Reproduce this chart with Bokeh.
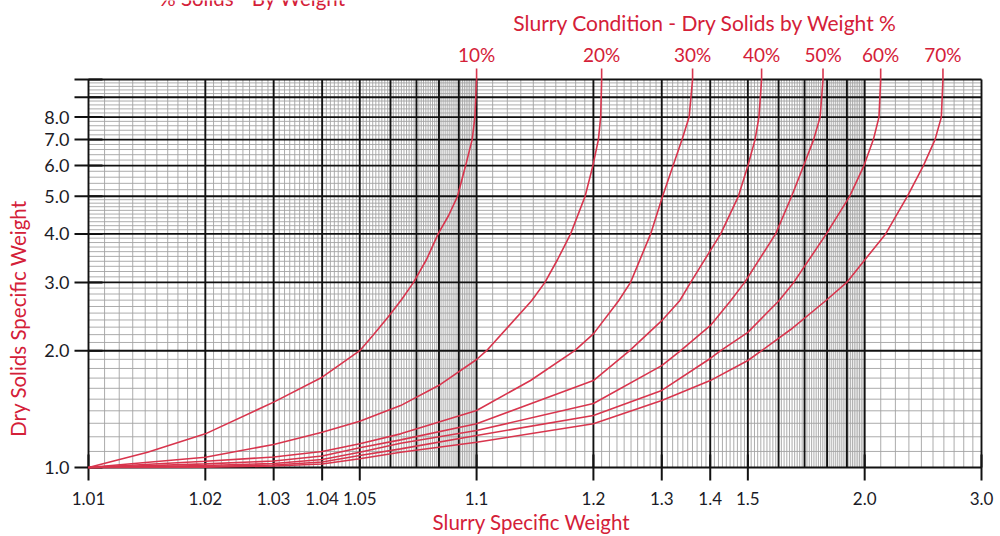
import math
import numpy as np
from bokeh.plotting import figure
from bokeh.models import Range1d
from bokeh.embed import file_html
from bokeh.resources import INLINE
from bokeh.core.properties import value

# ---------------- data: slurry specific weight (x) vs dry solids specific weight (y) ----------------
pct_labels = ["10%", "20%", "30%", "40%", "50%", "60%", "70%"]

sg_10 = [1.010, 1.0142, 1.020, 1.030, 1.040, 1.050, 1.0543, 1.0593, 1.0641, 1.0688, 1.0743, 1.0796, 1.0847, 1.0893, 1.0937, 1.0974, 1.099, 1.100]
dry_10 = [1.00, 1.095, 1.221, 1.474, 1.709, 2.00, 2.202, 2.451, 2.710, 3.00, 3.436, 4.00, 4.462, 5.00, 6.00, 7.00, 8.00, 10.0]

sg_20 = [1.010, 1.020, 1.030, 1.040, 1.050, 1.0637, 1.0807, 1.100, 1.1061, 1.1386, 1.150, 1.1617, 1.1747, 1.1904, 1.1994, 1.206, 1.2088, 1.210]
dry_20 = [1.00, 1.063, 1.146, 1.233, 1.316, 1.444, 1.637, 1.898, 2.00, 2.69, 3.00, 3.436, 4.00, 5.00, 6.00, 7.00, 8.00, 10.0]

sg_30 = [1.010, 1.020, 1.030, 1.040, 1.050, 1.0637, 1.100, 1.1377, 1.179, 1.200, 1.2323, 1.2493, 1.2809, 1.3015, 1.3209, 1.3384, 1.3529, 1.3602]
dry_30 = [1.00, 1.038, 1.064, 1.100, 1.151, 1.221, 1.403, 1.676, 2.00, 2.21, 2.69, 3.00, 4.00, 5.00, 6.00, 7.00, 8.00, 10.0]

sg_40 = [1.010, 1.020, 1.030, 1.040, 1.050, 1.0637, 1.100, 1.200, 1.248, 1.300, 1.3337, 1.3561, 1.4256, 1.4727, 1.5003, 1.5218, 1.534, 1.5425]
dry_40 = [1.00, 1.022, 1.039, 1.071, 1.124, 1.178, 1.296, 1.675, 2.00, 2.39, 2.69, 3.00, 4.00, 5.00, 6.00, 7.00, 8.00, 10.0]

sg_50 = [1.010, 1.020, 1.030, 1.040, 1.050, 1.0637, 1.100, 1.200, 1.300, 1.3356, 1.400, 1.4515, 1.4905, 1.5896, 1.6484, 1.6964, 1.7387, 1.7677, 1.781]
dry_50 = [1.00, 1.012, 1.024, 1.049, 1.095, 1.155, 1.245, 1.462, 1.83, 2.00, 2.32, 2.69, 3.00, 4.00, 5.00, 6.00, 7.00, 8.00, 10.0]

sg_60 = [1.010, 1.020, 1.030, 1.040, 1.050, 1.0637, 1.100, 1.200, 1.300, 1.400, 1.4256, 1.500, 1.6013, 1.6564, 1.7966, 1.9147, 1.9958, 2.0529, 2.0886, 2.0996]
dry_60 = [1.00, 1.006, 1.015, 1.033, 1.074, 1.117, 1.209, 1.361, 1.58, 1.91, 2.00, 2.23, 2.69, 3.00, 4.00, 5.00, 6.00, 7.00, 8.00, 10.0]

sg_70 = [1.010, 1.020, 1.030, 1.040, 1.050, 1.0637, 1.100, 1.200, 1.300, 1.400, 1.500, 1.5425, 1.6446, 1.7935, 1.899, 2.1325, 2.288, 2.417, 2.518, 2.576, 2.591]
dry_70 = [1.00, 1.002, 1.009, 1.021, 1.053, 1.095, 1.162, 1.296, 1.488, 1.675, 1.887, 2.00, 2.268, 2.69, 3.00, 4.00, 5.00, 6.00, 7.00, 8.00, 10.0]

x_tick_values = [1.01, 1.02, 1.03, 1.04, 1.05, 1.1, 1.2, 1.3, 1.4, 1.5, 2.0, 3.0]
x_tick_labels = ["1.01", "1.02", "1.03", "1.04", "1.05", "1.1", "1.2", "1.3", "1.4", "1.5", "2.0", "3.0"]
y_tick_values = [1, 2, 3, 4, 5, 6, 7, 8, 9, 10]
y_tick_labels = ["1.0", "2.0", "3.0", "4.0", "5.0", "6.0", "7.0", "8.0", "", ""]

X_MIN, X_MAX = 1.01, 3.0      # slurry specific weight extent of the chart paper
Y_MIN, Y_MAX = 1.0, 10.0      # dry solids specific weight extent
label_level = 10.67           # where the percentage leaders end

# ---------------- layout / styling ----------------
W, H = 1000, 536
PX_L, PX_R, PX_T, PX_B = 88, 981, 79, 467   # grid box on the canvas
RED_LINE = "#d8354d"
RED_TEXT = "#d42038"
INK = "#1b1b26"
FONT = value("Lato")


def off(v):
    return round(v - 1.0, 6)


# ranges so that the grid box lands at the pixels above while the whole canvas is the frame
ppd_x = (PX_R - PX_L) / math.log10(off(X_MAX) / off(X_MIN))
ppd_y = (PX_B - PX_T) / math.log10(Y_MAX / Y_MIN)
x_range = Range1d(off(X_MIN) * 10 ** (-PX_L / ppd_x), off(X_MAX) * 10 ** ((W - PX_R) / ppd_x))
y_range = Range1d(Y_MIN * 10 ** (-(H - PX_B) / ppd_y), Y_MAX * 10 ** (PX_T / ppd_y))

p = figure(width=W, height=H, x_axis_type="log", y_axis_type="log",
           x_range=x_range, y_range=y_range, x_axis_location=None, y_axis_location=None,
           output_backend="svg", toolbar_location=None, title=None,
           min_border=0, min_border_left=0, min_border_right=0, min_border_top=0, min_border_bottom=0)
p.grid.visible = False
p.outline_line_color = None
p.background_fill_color = "white"
p.border_fill_color = "white"

# ---------------- chart paper grid ----------------
x_major = sorted(set([off(v) for v in np.round(np.arange(1.01, 1.1001, 0.01), 3)] +
                     [off(v) for v in np.round(np.arange(1.1, 2.0001, 0.1), 2)] + [off(3.0)]))
x_minor = sorted(set([off(v) for v in np.round(np.arange(1.010, 1.1001, 0.001), 4)] +
                     [off(v) for v in np.round(np.arange(1.10, 2.0001, 0.01), 3)] +
                     [off(v) for v in np.round(np.arange(2.0, 3.0001, 0.1), 2)]) - set(x_major))
y_major = [float(v) for v in y_tick_values]
y_minor = sorted(set(np.round(np.arange(1.0, 5.0001, 0.1), 2).tolist() +
                     np.round(np.arange(5.0, 10.0001, 0.2), 2).tolist()) - set(y_major))

GRAY = "#a3a3a3"
p.segment(x0=x_minor, y0=[Y_MIN] * len(x_minor), x1=x_minor, y1=[Y_MAX] * len(x_minor),
          line_color=GRAY, line_width=0.9)
p.segment(x0=[off(X_MIN)] * len(y_minor), y0=y_minor, x1=[off(X_MAX)] * len(y_minor), y1=y_minor,
          line_color=GRAY, line_width=0.9)
p.segment(x0=x_major, y0=[Y_MIN] * len(x_major), x1=x_major, y1=[Y_MAX] * len(x_major),
          line_color="#111111", line_width=1.9)
p.segment(x0=[off(X_MIN)] * len(y_major), y0=y_major, x1=[off(X_MAX)] * len(y_major), y1=y_major,
          line_color="#111111", line_width=1.9)

# ---------------- axis ticks and tick labels ----------------
xt = [off(v) for v in x_tick_values]
p.scatter(x=xt, y=[Y_MIN] * len(xt), marker="dash", size=26, angle=math.pi / 2,
          line_color="#111111", line_width=2)
p.scatter(x=[off(X_MIN)] * len(y_major), y=y_major, marker="dash", size=28,
          line_color="#111111", line_width=2)
p.text(x=xt, y=[Y_MIN] * len(xt), text=x_tick_labels, text_align="center", text_baseline="top",
       y_offset=24, text_font=FONT, text_font_size="17px", text_color=INK)
p.text(x=[off(X_MIN)] * len(y_major), y=y_major, text=y_tick_labels, text_align="right",
       text_baseline="middle", x_offset=-19, text_font=FONT, text_font_size="18px", text_color=INK)

# ---------------- curves ----------------
curves = [(sg_10, dry_10), (sg_20, dry_20), (sg_30, dry_30), (sg_40, dry_40),
          (sg_50, dry_50), (sg_60, dry_60), (sg_70, dry_70)]
for sg, dry in curves:
    p.line([off(v) for v in sg], dry, line_color=RED_LINE, line_width=1.6)

tops = [off(c[0][-1]) for c in curves]
p.segment(x0=tops, y0=[c[1][-1] for c in curves], x1=tops, y1=[label_level] * len(tops),
          line_color=RED_LINE, line_width=1.6)
p.text(x=tops, y=[label_level] * len(tops), text=pct_labels, text_align="center",
       text_baseline="alphabetic", y_offset=-14, text_font=FONT, text_font_size="19px",
       text_color=RED_TEXT)

# ---------------- titles ----------------
p.text(x=[off(X_MIN)], y=[Y_MAX], text=["Slurry Condition - Dry Solids by Weight %"],
       x_offset=617, y_offset=-57, text_align="center", text_baseline="alphabetic",
       text_font=FONT, text_font_size="21px", text_color=RED_TEXT)
p.text(x=[off(X_MIN)], y=[Y_MAX], text=["% Solids - By Weight"],
       x_offset=164, y_offset=-82, text_align="center", text_baseline="alphabetic",
       text_font=FONT, text_font_size="20.5px", text_color=RED_TEXT)
p.text(x=[off(X_MIN)], y=[Y_MIN], text=["Slurry Specific Weight"],
       x_offset=443, y_offset=54, text_align="center", text_baseline="alphabetic",
       text_font=FONT, text_font_size="20.5px", text_color=RED_TEXT)
p.text(x=[off(X_MIN)], y=[Y_MIN], text=["Dry Solids Specific Weight"],
       x_offset=-71, y_offset=-149, angle=math.pi / 2, text_align="center",
       text_baseline="alphabetic", text_font=FONT, text_font_size="20.5px", text_color=RED_TEXT)

open("out.html", "w").write(file_html(p, INLINE))
